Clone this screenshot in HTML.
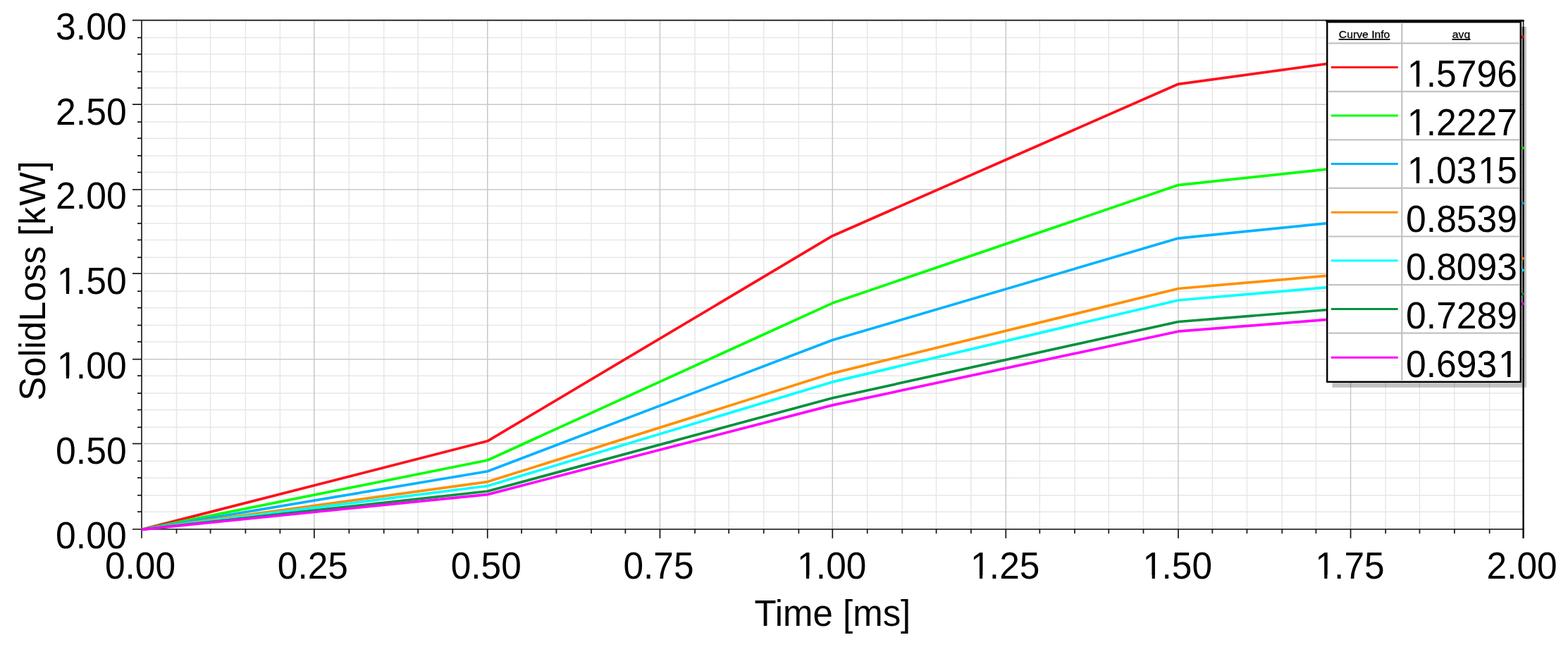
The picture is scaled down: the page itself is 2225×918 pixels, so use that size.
<!DOCTYPE html>
<html lang="en"><head><meta charset="utf-8"><title>SolidLoss vs Time</title>
<style>html,body{margin:0;padding:0;background:#fff}body{width:2225px;height:918px}svg{display:block}text{font-family:"Liberation Sans", sans-serif;fill:#000}</style></head><body>
<svg width="2225" height="918" viewBox="0 0 2225 918">
<rect width="2225" height="918" fill="#fff"/>
<g stroke="#e7e7e7" stroke-width="1.5" fill="none">
<line x1="250.50" y1="28.8" x2="250.50" y2="750.8"/>
<line x1="298.60" y1="28.8" x2="298.60" y2="750.8"/>
<line x1="348.40" y1="28.8" x2="348.40" y2="750.8"/>
<line x1="397.40" y1="28.8" x2="397.40" y2="750.8"/>
<line x1="495.35" y1="28.8" x2="495.35" y2="750.8"/>
<line x1="544.70" y1="28.8" x2="544.70" y2="750.8"/>
<line x1="593.20" y1="28.8" x2="593.20" y2="750.8"/>
<line x1="642.30" y1="28.8" x2="642.30" y2="750.8"/>
<line x1="740.10" y1="28.8" x2="740.10" y2="750.8"/>
<line x1="789.45" y1="28.8" x2="789.45" y2="750.8"/>
<line x1="839.05" y1="28.8" x2="839.05" y2="750.8"/>
<line x1="887.40" y1="28.8" x2="887.40" y2="750.8"/>
<line x1="986.10" y1="28.8" x2="986.10" y2="750.8"/>
<line x1="1034.20" y1="28.8" x2="1034.20" y2="750.8"/>
<line x1="1083.70" y1="28.8" x2="1083.70" y2="750.8"/>
<line x1="1133.40" y1="28.8" x2="1133.40" y2="750.8"/>
<line x1="1230.70" y1="28.8" x2="1230.70" y2="750.8"/>
<line x1="1280.30" y1="28.8" x2="1280.30" y2="750.8"/>
<line x1="1328.60" y1="28.8" x2="1328.60" y2="750.8"/>
<line x1="1377.90" y1="28.8" x2="1377.90" y2="750.8"/>
<line x1="1475.35" y1="28.8" x2="1475.35" y2="750.8"/>
<line x1="1525.00" y1="28.8" x2="1525.00" y2="750.8"/>
<line x1="1573.30" y1="28.8" x2="1573.30" y2="750.8"/>
<line x1="1622.50" y1="28.8" x2="1622.50" y2="750.8"/>
<line x1="1720.35" y1="28.8" x2="1720.35" y2="750.8"/>
<line x1="1769.45" y1="28.8" x2="1769.45" y2="750.8"/>
<line x1="1819.30" y1="28.8" x2="1819.30" y2="750.8"/>
<line x1="1867.40" y1="28.8" x2="1867.40" y2="750.8"/>
<line x1="1966.20" y1="28.8" x2="1966.20" y2="750.8"/>
<line x1="2014.45" y1="28.8" x2="2014.45" y2="750.8"/>
<line x1="2063.90" y1="28.8" x2="2063.90" y2="750.8"/>
<line x1="2113.65" y1="28.8" x2="2113.65" y2="750.8"/>
<line x1="203.2" y1="726.15" x2="2161.6" y2="726.15"/>
<line x1="203.2" y1="702.73" x2="2161.6" y2="702.73"/>
<line x1="203.2" y1="677.88" x2="2161.6" y2="677.88"/>
<line x1="203.2" y1="654.30" x2="2161.6" y2="654.30"/>
<line x1="203.2" y1="606.30" x2="2161.6" y2="606.30"/>
<line x1="203.2" y1="581.50" x2="2161.6" y2="581.50"/>
<line x1="203.2" y1="557.95" x2="2161.6" y2="557.95"/>
<line x1="203.2" y1="533.15" x2="2161.6" y2="533.15"/>
<line x1="203.2" y1="484.92" x2="2161.6" y2="484.92"/>
<line x1="203.2" y1="461.48" x2="2161.6" y2="461.48"/>
<line x1="203.2" y1="436.67" x2="2161.6" y2="436.67"/>
<line x1="203.2" y1="413.25" x2="2161.6" y2="413.25"/>
<line x1="203.2" y1="365.27" x2="2161.6" y2="365.27"/>
<line x1="203.2" y1="340.45" x2="2161.6" y2="340.45"/>
<line x1="203.2" y1="317.03" x2="2161.6" y2="317.03"/>
<line x1="203.2" y1="292.35" x2="2161.6" y2="292.35"/>
<line x1="203.2" y1="244.50" x2="2161.6" y2="244.50"/>
<line x1="203.2" y1="220.93" x2="2161.6" y2="220.93"/>
<line x1="203.2" y1="196.26" x2="2161.6" y2="196.26"/>
<line x1="203.2" y1="173.08" x2="2161.6" y2="173.08"/>
<line x1="203.2" y1="124.84" x2="2161.6" y2="124.84"/>
<line x1="203.2" y1="101.67" x2="2161.6" y2="101.67"/>
<line x1="203.2" y1="76.86" x2="2161.6" y2="76.86"/>
<line x1="203.2" y1="53.44" x2="2161.6" y2="53.44"/>
</g>
<g stroke="#c8c8c8" stroke-width="1.5" fill="none">
<line x1="445.85" y1="28.8" x2="445.85" y2="750.8"/>
<line x1="691.75" y1="28.8" x2="691.75" y2="750.8"/>
<line x1="936.45" y1="28.8" x2="936.45" y2="750.8"/>
<line x1="1181.30" y1="28.8" x2="1181.30" y2="750.8"/>
<line x1="1427.30" y1="28.8" x2="1427.30" y2="750.8"/>
<line x1="1672.00" y1="28.8" x2="1672.00" y2="750.8"/>
<line x1="1916.55" y1="28.8" x2="1916.55" y2="750.8"/>
<line x1="203.2" y1="629.50" x2="2161.6" y2="629.50"/>
<line x1="203.2" y1="509.72" x2="2161.6" y2="509.72"/>
<line x1="203.2" y1="388.07" x2="2161.6" y2="388.07"/>
<line x1="203.2" y1="269.05" x2="2161.6" y2="269.05"/>
<line x1="203.2" y1="148.15" x2="2161.6" y2="148.15"/>
</g>
<g stroke="#2c2c2c" stroke-width="1.8" fill="none">
<line x1="188" y1="28.76" x2="2162.5" y2="28.76"/>
<line x1="188" y1="750.83" x2="2162.5" y2="750.83"/>
<line x1="201.00" y1="27.9" x2="201.00" y2="763.8"/>
<line x1="2161.60" y1="27.9" x2="2161.60" y2="763.8"/>
</g>
<g stroke="#141414" stroke-width="1.7" fill="none">
<line x1="195" y1="726.15" x2="201.0" y2="726.15"/>
<line x1="195" y1="702.73" x2="201.0" y2="702.73"/>
<line x1="195" y1="677.88" x2="201.0" y2="677.88"/>
<line x1="195" y1="654.30" x2="201.0" y2="654.30"/>
<line x1="188" y1="629.50" x2="201.0" y2="629.50"/>
<line x1="195" y1="606.30" x2="201.0" y2="606.30"/>
<line x1="195" y1="581.50" x2="201.0" y2="581.50"/>
<line x1="195" y1="557.95" x2="201.0" y2="557.95"/>
<line x1="195" y1="533.15" x2="201.0" y2="533.15"/>
<line x1="188" y1="509.72" x2="201.0" y2="509.72"/>
<line x1="195" y1="484.92" x2="201.0" y2="484.92"/>
<line x1="195" y1="461.48" x2="201.0" y2="461.48"/>
<line x1="195" y1="436.67" x2="201.0" y2="436.67"/>
<line x1="195" y1="413.25" x2="201.0" y2="413.25"/>
<line x1="188" y1="388.07" x2="201.0" y2="388.07"/>
<line x1="195" y1="365.27" x2="201.0" y2="365.27"/>
<line x1="195" y1="340.45" x2="201.0" y2="340.45"/>
<line x1="195" y1="317.03" x2="201.0" y2="317.03"/>
<line x1="195" y1="292.35" x2="201.0" y2="292.35"/>
<line x1="188" y1="269.05" x2="201.0" y2="269.05"/>
<line x1="195" y1="244.50" x2="201.0" y2="244.50"/>
<line x1="195" y1="220.93" x2="201.0" y2="220.93"/>
<line x1="195" y1="196.26" x2="201.0" y2="196.26"/>
<line x1="195" y1="173.08" x2="201.0" y2="173.08"/>
<line x1="188" y1="148.15" x2="201.0" y2="148.15"/>
<line x1="195" y1="124.84" x2="201.0" y2="124.84"/>
<line x1="195" y1="101.67" x2="201.0" y2="101.67"/>
<line x1="195" y1="76.86" x2="201.0" y2="76.86"/>
<line x1="195" y1="53.44" x2="201.0" y2="53.44"/>
<line x1="250.50" y1="750.8" x2="250.50" y2="757.0"/>
<line x1="298.60" y1="750.8" x2="298.60" y2="757.0"/>
<line x1="348.40" y1="750.8" x2="348.40" y2="757.0"/>
<line x1="397.40" y1="750.8" x2="397.40" y2="757.0"/>
<line x1="445.85" y1="750.8" x2="445.85" y2="763.8"/>
<line x1="495.35" y1="750.8" x2="495.35" y2="757.0"/>
<line x1="544.70" y1="750.8" x2="544.70" y2="757.0"/>
<line x1="593.20" y1="750.8" x2="593.20" y2="757.0"/>
<line x1="642.30" y1="750.8" x2="642.30" y2="757.0"/>
<line x1="691.75" y1="750.8" x2="691.75" y2="763.8"/>
<line x1="740.10" y1="750.8" x2="740.10" y2="757.0"/>
<line x1="789.45" y1="750.8" x2="789.45" y2="757.0"/>
<line x1="839.05" y1="750.8" x2="839.05" y2="757.0"/>
<line x1="887.40" y1="750.8" x2="887.40" y2="757.0"/>
<line x1="936.45" y1="750.8" x2="936.45" y2="763.8"/>
<line x1="986.10" y1="750.8" x2="986.10" y2="757.0"/>
<line x1="1034.20" y1="750.8" x2="1034.20" y2="757.0"/>
<line x1="1083.70" y1="750.8" x2="1083.70" y2="757.0"/>
<line x1="1133.40" y1="750.8" x2="1133.40" y2="757.0"/>
<line x1="1181.30" y1="750.8" x2="1181.30" y2="763.8"/>
<line x1="1230.70" y1="750.8" x2="1230.70" y2="757.0"/>
<line x1="1280.30" y1="750.8" x2="1280.30" y2="757.0"/>
<line x1="1328.60" y1="750.8" x2="1328.60" y2="757.0"/>
<line x1="1377.90" y1="750.8" x2="1377.90" y2="757.0"/>
<line x1="1427.30" y1="750.8" x2="1427.30" y2="763.8"/>
<line x1="1475.35" y1="750.8" x2="1475.35" y2="757.0"/>
<line x1="1525.00" y1="750.8" x2="1525.00" y2="757.0"/>
<line x1="1573.30" y1="750.8" x2="1573.30" y2="757.0"/>
<line x1="1622.50" y1="750.8" x2="1622.50" y2="757.0"/>
<line x1="1672.00" y1="750.8" x2="1672.00" y2="763.8"/>
<line x1="1720.35" y1="750.8" x2="1720.35" y2="757.0"/>
<line x1="1769.45" y1="750.8" x2="1769.45" y2="757.0"/>
<line x1="1819.30" y1="750.8" x2="1819.30" y2="757.0"/>
<line x1="1867.40" y1="750.8" x2="1867.40" y2="757.0"/>
<line x1="1916.55" y1="750.8" x2="1916.55" y2="763.8"/>
<line x1="1966.20" y1="750.8" x2="1966.20" y2="757.0"/>
<line x1="2014.45" y1="750.8" x2="2014.45" y2="757.0"/>
<line x1="2063.90" y1="750.8" x2="2063.90" y2="757.0"/>
<line x1="2113.65" y1="750.8" x2="2113.65" y2="757.0"/>
</g>
<g fill="none" stroke-width="3.7" stroke-linejoin="round" stroke-linecap="butt">
<polyline stroke="#ff0f1a" points="201.0,751.3 691.8,625.8 1181.3,334.7 1672.0,119.3 2161.6,52.5"/>
<polyline stroke="#00ff00" points="201.0,751.3 691.8,653.0 1181.3,430.1 1672.0,262.6 2161.6,210.3"/>
<polyline stroke="#00b2ff" points="201.0,751.3 691.8,668.7 1181.3,482.5 1672.0,338.1 2161.6,288.8"/>
<polyline stroke="#ff9000" points="201.0,751.3 691.8,683.6 1181.3,529.6 1672.0,409.5 2161.6,367.1"/>
<polyline stroke="#00ffff" points="201.0,751.3 691.8,689.5 1181.3,541.9 1672.0,426.0 2161.6,383.7"/>
<polyline stroke="#00913c" points="201.0,751.3 691.8,697.0 1181.3,564.8 1672.0,456.5 2161.6,417.3"/>
<polyline stroke="#ff00ff" points="201.0,751.3 691.8,701.6 1181.3,574.9 1672.0,470.2 2161.6,431.3"/>
</g>
<rect x="1890.5" y="38" width="275.5" height="511.8" fill="#000" fill-opacity="0.24"/>
<line x1="2161.60" y1="38" x2="2161.60" y2="763.8" stroke="#000" stroke-width="2.0"/>
<rect x="1883.2" y="31.2" width="274.6" height="510.6" fill="#fff" stroke="#000" stroke-width="2.4"/>
<line x1="1881" y1="29.9" x2="2162.5" y2="29.9" stroke="#000" stroke-width="1.6"/>
<g stroke="#c2c2c2" stroke-width="2.2">
<line x1="1989.3" y1="32.4" x2="1989.3" y2="540.6"/>
<line x1="1884.4" y1="61.3" x2="2156.6" y2="61.3"/>
<line x1="1884.4" y1="129.8" x2="2156.6" y2="129.8"/>
<line x1="1884.4" y1="198.3" x2="2156.6" y2="198.3"/>
<line x1="1884.4" y1="266.9" x2="2156.6" y2="266.9"/>
<line x1="1884.4" y1="335.5" x2="2156.6" y2="335.5"/>
<line x1="1884.4" y1="404.1" x2="2156.6" y2="404.1"/>
<line x1="1884.4" y1="472.7" x2="2156.6" y2="472.7"/>
</g>
<g stroke="#000" stroke-width="0.25">
<text transform="translate(1936.10 53.80) scale(1.1400 1)" font-size="13.80" text-anchor="middle">Curve Info</text>
<text transform="translate(2073.50 53.80) scale(1.1400 1)" font-size="13.80" text-anchor="middle">avg</text>
</g>
<line x1="1899.7" y1="55.9" x2="1972.5" y2="55.9" stroke="#000" stroke-width="1.8"/>
<line x1="2060.4" y1="55.9" x2="2086.6" y2="55.9" stroke="#000" stroke-width="1.8"/>
<line x1="1888.8" y1="95.6" x2="1983.7" y2="95.6" stroke="#ff0f1a" stroke-width="3"/>
<text transform="translate(2151.35 123.00) scale(0.9690 1)" font-size="53.30" text-anchor="end" dx="1.7 -1.7 0 0 0 0">1.5796</text>
<rect transform="translate(2151.35 123.00) scale(0.9690 1)" x="-157.02" y="-4.42" width="11.03" height="4.94" fill="#fff"/>
<rect transform="translate(2151.35 123.00) scale(0.9690 1)" x="-141.72" y="-4.42" width="10.98" height="4.94" fill="#fff"/>
<line x1="1888.8" y1="164.1" x2="1983.7" y2="164.1" stroke="#00ff00" stroke-width="3"/>
<text transform="translate(2151.35 191.50) scale(0.9690 1)" font-size="53.30" text-anchor="end" dx="1.7 -1.7 0 0 0 0">1.2227</text>
<rect transform="translate(2151.35 191.50) scale(0.9690 1)" x="-157.02" y="-4.42" width="11.03" height="4.94" fill="#fff"/>
<rect transform="translate(2151.35 191.50) scale(0.9690 1)" x="-141.72" y="-4.42" width="10.98" height="4.94" fill="#fff"/>
<line x1="1888.8" y1="232.6" x2="1983.7" y2="232.6" stroke="#00b2ff" stroke-width="3"/>
<text transform="translate(2151.35 260.10) scale(0.9690 1)" font-size="53.30" text-anchor="end" dx="1.7 -1.7 0 0 1.7 -1.7">1.0315</text>
<rect transform="translate(2151.35 260.10) scale(0.9690 1)" x="-157.02" y="-4.42" width="11.03" height="4.94" fill="#fff"/>
<rect transform="translate(2151.35 260.10) scale(0.9690 1)" x="-141.72" y="-4.42" width="10.98" height="4.94" fill="#fff"/>
<rect transform="translate(2151.35 260.10) scale(0.9690 1)" x="-53.28" y="-4.42" width="11.03" height="4.94" fill="#fff"/>
<rect transform="translate(2151.35 260.10) scale(0.9690 1)" x="-37.98" y="-4.42" width="10.98" height="4.94" fill="#fff"/>
<line x1="1888.8" y1="301.2" x2="1983.7" y2="301.2" stroke="#ff9000" stroke-width="3"/>
<text transform="translate(2153.00 328.70) scale(0.9690 1)" font-size="53.30" text-anchor="end">0.8539</text>
<line x1="1888.8" y1="369.8" x2="1983.7" y2="369.8" stroke="#00ffff" stroke-width="3"/>
<text transform="translate(2153.00 397.30) scale(0.9690 1)" font-size="53.30" text-anchor="end">0.8093</text>
<line x1="1888.8" y1="438.4" x2="1983.7" y2="438.4" stroke="#00913c" stroke-width="3"/>
<text transform="translate(2153.00 465.90) scale(0.9690 1)" font-size="53.30" text-anchor="end">0.7289</text>
<line x1="1888.8" y1="507.2" x2="1983.7" y2="507.2" stroke="#ff00ff" stroke-width="3"/>
<text transform="translate(2154.65 535.00) scale(0.9690 1)" font-size="53.30" text-anchor="end" dx="0 0 0 0 0 1.7">0.6931</text>
<rect transform="translate(2154.65 535.00) scale(0.9690 1)" x="-27.04" y="-4.42" width="11.03" height="4.94" fill="#fff"/>
<rect transform="translate(2154.65 535.00) scale(0.9690 1)" x="-11.74" y="-4.42" width="10.98" height="4.94" fill="#fff"/>
<rect x="2159.6" y="50.4" width="2.9" height="3.6" fill="#ff0f1a"/>
<rect x="2159.6" y="208.2" width="2.9" height="3.6" fill="#00ff00"/>
<rect x="2159.6" y="286.7" width="2.9" height="3.6" fill="#00b2ff"/>
<rect x="2159.6" y="365.0" width="2.9" height="3.6" fill="#ff9000"/>
<rect x="2159.6" y="381.6" width="2.9" height="3.6" fill="#00ffff"/>
<rect x="2159.6" y="415.2" width="2.9" height="3.6" fill="#00913c"/>
<rect x="2159.6" y="429.2" width="2.9" height="3.6" fill="#ff00ff"/>
<text transform="translate(179.60 777.80) scale(0.9690 1)" font-size="53.30" text-anchor="end">0.00</text>
<text transform="translate(179.60 658.20) scale(0.9690 1)" font-size="53.30" text-anchor="end">0.50</text>
<text transform="translate(177.95 537.20) scale(0.9690 1)" font-size="53.30" text-anchor="end" dx="1.7 -1.7 0 0">1.00</text>
<rect transform="translate(177.95 537.20) scale(0.9690 1)" x="-97.73" y="-4.42" width="11.03" height="4.94" fill="#fff"/>
<rect transform="translate(177.95 537.20) scale(0.9690 1)" x="-82.43" y="-4.42" width="10.98" height="4.94" fill="#fff"/>
<text transform="translate(177.95 417.30) scale(0.9690 1)" font-size="53.30" text-anchor="end" dx="1.7 -1.7 0 0">1.50</text>
<rect transform="translate(177.95 417.30) scale(0.9690 1)" x="-97.73" y="-4.42" width="11.03" height="4.94" fill="#fff"/>
<rect transform="translate(177.95 417.30) scale(0.9690 1)" x="-82.43" y="-4.42" width="10.98" height="4.94" fill="#fff"/>
<text transform="translate(179.60 296.20) scale(0.9690 1)" font-size="53.30" text-anchor="end">2.00</text>
<text transform="translate(179.60 176.50) scale(0.9690 1)" font-size="53.30" text-anchor="end">2.50</text>
<text transform="translate(179.60 56.00) scale(0.9690 1)" font-size="53.30" text-anchor="end">3.00</text>
<text transform="translate(199.00 820.50) scale(0.9650 1)" font-size="53.30" text-anchor="middle">0.00</text>
<text transform="translate(443.85 820.50) scale(0.9650 1)" font-size="53.30" text-anchor="middle">0.25</text>
<text transform="translate(689.75 820.50) scale(0.9650 1)" font-size="53.30" text-anchor="middle">0.50</text>
<text transform="translate(934.45 820.50) scale(0.9650 1)" font-size="53.30" text-anchor="middle">0.75</text>
<text transform="translate(1178.48 820.50) scale(0.9650 1)" font-size="53.30" text-anchor="middle" dx="1.7 -1.7 0 0">1.00</text>
<rect transform="translate(1178.48 820.50) scale(0.9650 1)" x="-46.72" y="-4.42" width="11.03" height="4.94" fill="#fff"/>
<rect transform="translate(1178.48 820.50) scale(0.9650 1)" x="-31.41" y="-4.42" width="10.98" height="4.94" fill="#fff"/>
<text transform="translate(1424.48 820.50) scale(0.9650 1)" font-size="53.30" text-anchor="middle" dx="1.7 -1.7 0 0">1.25</text>
<rect transform="translate(1424.48 820.50) scale(0.9650 1)" x="-46.72" y="-4.42" width="11.03" height="4.94" fill="#fff"/>
<rect transform="translate(1424.48 820.50) scale(0.9650 1)" x="-31.41" y="-4.42" width="10.98" height="4.94" fill="#fff"/>
<text transform="translate(1669.18 820.50) scale(0.9650 1)" font-size="53.30" text-anchor="middle" dx="1.7 -1.7 0 0">1.50</text>
<rect transform="translate(1669.18 820.50) scale(0.9650 1)" x="-46.72" y="-4.42" width="11.03" height="4.94" fill="#fff"/>
<rect transform="translate(1669.18 820.50) scale(0.9650 1)" x="-31.41" y="-4.42" width="10.98" height="4.94" fill="#fff"/>
<text transform="translate(1913.73 820.50) scale(0.9650 1)" font-size="53.30" text-anchor="middle" dx="1.7 -1.7 0 0">1.75</text>
<rect transform="translate(1913.73 820.50) scale(0.9650 1)" x="-46.72" y="-4.42" width="11.03" height="4.94" fill="#fff"/>
<rect transform="translate(1913.73 820.50) scale(0.9650 1)" x="-31.41" y="-4.42" width="10.98" height="4.94" fill="#fff"/>
<text transform="translate(2159.60 820.50) scale(0.9650 1)" font-size="53.30" text-anchor="middle">2.00</text>
<text transform="translate(1181.40 887.80) scale(0.9690 1)" font-size="52.60" text-anchor="middle">Time [ms]</text>
<text transform="translate(64.30 568.40) rotate(-90) scale(0.9650 1)" font-size="52.40" text-anchor="start" dx="0 0 0 0 0 0 0 0 0 0 0.32 1.76 1.76 1.76">SolidLoss [kW]</text>
</svg></body></html>
